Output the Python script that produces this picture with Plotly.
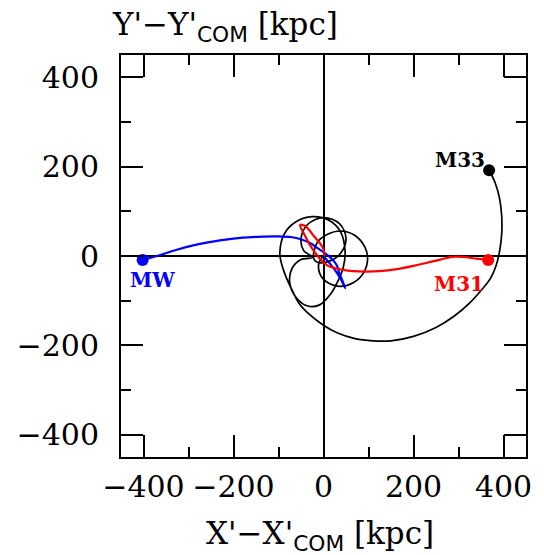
import plotly.graph_objects as go

# MW trajectory (kpc)
mw_x = [-402, -370, -330, -280, -230, -180, -146, -100, -70, -52, -30, -12, 5, 21, 30, 35, 42, 48, 40, 28, 15, 5, 1]
mw_y = [-9, 0, 13, 26, 35, 41, 43, 44, 42, 38, 29, 17, 5, -9, -22, -38, -55, -72, -55, -35, -18, -6, -1]

# M31 trajectory (kpc)
m31_x = [366, 340, 310, 286, 260, 230, 200, 160, 125, 94, 65, 43, 25, 10, -9, -26, -44, -52, -41, -20, -1, 2]
m31_y = [-9, -6, -2, -2, -8, -15, -22, -30, -34, -35, -34, -31, -27, -22, -5, 18, 51, 69, 67, 43, 18, -1]

# M33 trajectory (kpc)
m33_x = [368, 381, 391, 396, 396, 392, 384, 371, 352, 325, 290, 250, 200, 150, 110, 70, 30, 0, -30, -55, -68, -84, -95,
         -97, -88, -62, -25, 12, 38, 48, 44, 32, 15, -10, -35, -60, -75, -70, -50, -24,
         -44, -50, -36, 0, 36, 50, 38, 12, -14,
         -22, -14, 8, 38, 70, 92, 98, 90, 66, 38, 10, -8, -10, 0]
m33_y = [192, 165, 130, 90, 50, 15, -20, -50, -75, -105, -135, -160, -180, -190, -190, -185, -172, -155, -132, -105, -80, -45, -10,
         8, 48, 76, 88, 80, 54, 10, -25, -56, -86, -110, -112, -94, -60, -28, -8, -3,
         12, 38, 70, 86, 72, 38, 6, -12, -14,
         -5, 30, 48, 56, 46, 20, -5, -36, -60, -68, -60, -40, -15, 0]

labels = ["MW", "M31", "M33"]
label_x = [-380, 300, 304]
label_y = [-54, -63, 215]
colors = ["#0000ff", "#ff0000", "#000000"]

fig = go.Figure()
fig.add_trace(go.Scatter(x=m33_x, y=m33_y, mode="lines", line=dict(color="black", width=1.7, shape="spline", smoothing=1.0), hoverinfo="skip"))
fig.add_trace(go.Scatter(x=mw_x, y=mw_y, mode="lines", line=dict(color="#0000ff", width=2.2, shape="spline", smoothing=1.0), hoverinfo="skip"))
fig.add_trace(go.Scatter(x=m31_x, y=m31_y, mode="lines", line=dict(color="#ff0000", width=2.2, shape="spline", smoothing=1.0), hoverinfo="skip"))
fig.add_trace(go.Scatter(x=[mw_x[0], m31_x[0], m33_x[0]], y=[mw_y[0], m31_y[0], m33_y[0]], mode="markers",
                         marker=dict(color=colors, size=12), hoverinfo="skip"))

for t, x, y, c in zip(labels, label_x, label_y, colors):
    fig.add_annotation(x=x, y=y, text=f"<b>{t}</b>", showarrow=False,
                       font=dict(family="DejaVu Serif", size=20, color=c))

axis_common = dict(
    range=[-450, 450], showline=True, mirror="ticks", linecolor="black", linewidth=2,
    ticks="inside", ticklen=22, tickwidth=2, tickcolor="black",
    tickvals=[-400, -200, 0, 200, 400], showgrid=False,
    zeroline=True, zerolinecolor="black", zerolinewidth=1.5,
    tickfont=dict(family="DejaVu Serif", size=30, color="black"),
    minor=dict(ticks="inside", ticklen=10, tickwidth=2, tickcolor="black", dtick=100, tick0=0, showgrid=False),
    fixedrange=True,
)

fig.update_layout(
    width=544, height=555, autosize=False,
    margin=dict(l=121, r=12, t=55, b=98),
    plot_bgcolor="white", paper_bgcolor="white",
    showlegend=False,
    xaxis=dict(**axis_common, ticklabelstandoff=2),
    yaxis=dict(**axis_common, ticklabelstandoff=14),
)

fig.add_annotation(xref="paper", yref="paper", x=-0.027, y=1.07, xanchor="left", yanchor="middle",
                   text="Y'\u2212Y'<sub><span style='font-family:DejaVu Sans'>COM</span></sub> [kpc]",
                   showarrow=False, font=dict(family="DejaVu Serif", size=31, color="black"))
fig.add_annotation(xref="paper", yref="paper", x=0.4915, y=-0.196, xanchor="center", yanchor="middle",
                   text="X'\u2212X'<sub><span style='font-family:DejaVu Sans'>COM</span></sub> [kpc]",
                   showarrow=False, font=dict(family="DejaVu Serif", size=31, color="black"))

fig.write_html("out.html")
